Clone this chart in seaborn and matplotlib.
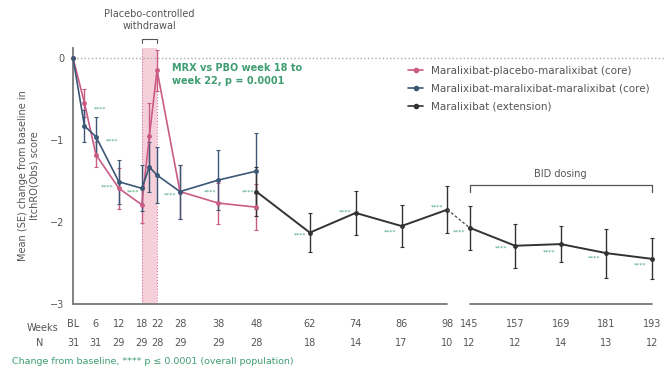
import numpy as np
import pandas as pd
import matplotlib
matplotlib.use("Agg")
import matplotlib.pyplot as plt
import matplotlib.transforms as mtransforms
from matplotlib.lines import Line2D
import seaborn as sns

# ---- data ----
core_weeks = [0, 3, 6, 12, 18, 20, 22, 28, 38, 48]
pbo_mean = [0, -0.55, -1.18, -1.59, -1.79, -0.95, -0.15, -1.63, -1.77, -1.82]
pbo_se = [0, 0.17, 0.15, 0.25, 0.22, 0.40, 0.25, 0.33, 0.25, 0.28]
mmm_mean = [0, -0.83, -0.96, -1.51, -1.59, -1.33, -1.43, -1.63, -1.49, -1.38]
mmm_se = [0, 0.20, 0.24, 0.27, 0.28, 0.30, 0.34, 0.33, 0.37, 0.46]

ext_weeks = [48, 62, 74, 86, 98, 145, 157, 169, 181, 193]
ext_mean = [-1.63, -2.13, -1.89, -2.05, -1.85, -2.07, -2.29, -2.27, -2.38, -2.45]
ext_se = [0.30, 0.24, 0.27, 0.26, 0.29, 0.27, 0.27, 0.22, 0.30, 0.25]

tick_weeks = [0, 6, 12, 18, 22, 28, 38, 48, 62, 74, 86, 98, 145, 157, 169, 181, 193]
tick_labels = ["BL", "6", "12", "18", "22", "28", "38", "48", "62", "74", "86", "98",
               "145", "157", "169", "181", "193"]
n_patients = [31, 31, 29, 29, 28, 29, 29, 28, 18, 14, 17, 10, 12, 12, 14, 13, 12]

star_weeks = [7.1, 10.2, 8.9, 15.7, 25.4, 35.9, 45.8, 59.4, 71.2, 83.0, 95.3,
              142.3, 153.2, 166.0, 177.8, 189.8]
star_vals = [-0.63, -1.01, -1.57, -1.63, -1.67, -1.63, -1.63, -2.16, -1.88, -2.12,
             -1.82, -2.12, -2.32, -2.37, -2.44, -2.52]

labels = ["Maralixibat-placebo-maralixibat (core)",
          "Maralixibat-maralixibat-maralixibat (core)",
          "Maralixibat (extension)"]
colors = ["#c95b84", "#3b5775", "#333333"]
GREEN = "#3f9d72"
GREY = "#555555"

# broken time axis: weeks 98 -> 145 squeezed into a small gap
GAP, SCALE2 = 5.8, 0.995


def xpos(w):
    w = np.asarray(w, dtype=float)
    return np.where(w <= 98, w, 98 + GAP + (w - 145) * SCALE2)


core = pd.concat([
    pd.DataFrame({"week": core_weeks, "mean": pbo_mean, "se": pbo_se, "arm": labels[0]}),
    pd.DataFrame({"week": core_weeks, "mean": mmm_mean, "se": mmm_se, "arm": labels[1]}),
])
core["pos"] = xpos(core["week"])
ext = pd.DataFrame({"week": ext_weeks, "mean": ext_mean, "se": ext_se})
ext["pos"] = xpos(ext["week"])

sns.set_theme(style="white")
plt.rcParams["font.family"] = ["DejaVu Sans"]

fig = plt.figure(figsize=(6.64, 3.76), dpi=100)
ax = fig.add_axes([73 / 664, 1 - 304 / 376, 591 / 664, 256 / 376])

# placebo-controlled withdrawal band
ax.axvspan(18, 22, color="#f2bccd", alpha=0.7, lw=0, zorder=0)
for w in (18, 22):
    ax.axvline(w, color="#d9738f", ls=":", lw=0.8, zorder=0.5)
ax.axhline(0, color="#aaaaaa", ls=":", lw=1.0, zorder=0.5)

# core arms
for arm, c in zip(labels[:2], colors[:2]):
    d = core[core["arm"] == arm]
    ax.errorbar(d["pos"], d["mean"], yerr=d["se"], fmt="none", ecolor=c,
                elinewidth=1.0, capsize=1.5, capthick=0.8, zorder=2, clip_on=False)
sns.lineplot(data=core, x="pos", y="mean", hue="arm", palette=colors[:2],
             marker="o", markersize=3.5, markeredgewidth=0, linewidth=1.2,
             errorbar=None, legend=False, sort=False, ax=ax, zorder=3)

# extension
ax.errorbar(ext["pos"], ext["mean"], yerr=ext["se"], fmt="none", ecolor=colors[2],
            elinewidth=1.0, capsize=1.5, capthick=0.8, zorder=2)
pre, post = ext[ext["week"] <= 98], ext[ext["week"] >= 145]
for seg in (pre, post):
    sns.lineplot(data=seg, x="pos", y="mean", color=colors[2], marker="o",
                 markersize=3.5, markeredgewidth=0, linewidth=1.4, errorbar=None,
                 ax=ax, zorder=4)
ax.plot(xpos([98, 145]), [ext_mean[4], ext_mean[5]], color="#555555", ls=(0, (2, 1.5)),
        lw=1.0, zorder=4)

for ln in ax.lines:
    ln.set_clip_on(False)

# significance stars
for w, v in zip(star_weeks, star_vals):
    ax.text(xpos(w), v, "****", color=GREEN, fontsize=4.5, ha="center", va="center")

# axes styling
ax.set_xlim(0, (664 - 73) / 3.82)
ax.set_ylim(-3, 0.12)
ax.set_xlabel("")
ax.set_ylabel("Mean (SE) change from baseline in\nItchRO(Obs) score", color=GREY,
              fontsize=7, labelpad=8)
ax.set_yticks([0, -1, -2, -3])
ax.set_yticklabels(["0", "\u22121", "\u22122", "\u22123"])
ax.set_xticks(xpos(tick_weeks))
ax.set_xticklabels(tick_labels)
ax.tick_params(axis="both", colors="#777777", labelcolor=GREY, labelsize=7,
               direction="inout", length=5, width=1.0)
ax.tick_params(axis="x", pad=8)
for s in ("top", "right", "bottom"):
    ax.spines[s].set_visible(False)
ax.spines["left"].set_color("#777777")
ax.spines["left"].set_linewidth(1.3)

# broken x axis line
for a, b in ((0, 98), (145, 193)):
    ax.plot(xpos([a, b]), [-3, -3], color="#777777", lw=1.3, clip_on=False, zorder=1)

trans = mtransforms.blended_transform_factory(ax.transData, ax.transAxes)
for w, n in zip(tick_weeks, n_patients):
    ax.text(xpos(w), -0.152, str(n), transform=trans, ha="center", va="center",
            fontsize=7, color=GREY)
ax.text(-0.025, -0.095, "Weeks", transform=ax.transAxes, ha="right", va="center",
        fontsize=7, color=GREY)
ax.text(-0.05, -0.152, "N", transform=ax.transAxes, ha="right", va="center",
        fontsize=7, color=GREY)

# withdrawal label and bracket
ax.plot([18, 18, 22, 22], [1.02, 1.035, 1.035, 1.02], transform=trans, color=GREY,
        lw=0.8, clip_on=False)
ax.text(20, 1.11, "Placebo-controlled\nwithdrawal", transform=trans, ha="center",
        va="center", fontsize=7, color=GREY, linespacing=1.3)

ax.text(25.9, -0.2, "MRX vs PBO week 18 to\nweek 22, p = 0.0001", color=GREEN,
        fontsize=7, fontweight="bold", ha="left", va="center", linespacing=1.4)

# BID dosing bracket
bx = xpos([145, 145, 193, 193])
ax.plot(bx, [-1.63, -1.55, -1.55, -1.63], color=GREY, lw=0.9, clip_on=False)
ax.text(xpos(169), -1.41, "BID dosing", ha="center", va="center", fontsize=7, color=GREY)

handles = [Line2D([0], [0], color=c, marker="o", ms=3, lw=1.2) for c in colors]
ax.legend(handles, labels, loc="upper left", bbox_to_anchor=(0.555, 0.96), frameon=False,
          fontsize=7.5, handlelength=1.4, labelspacing=0.75, labelcolor=GREY,
          borderpad=0.2)

fig.text(12 / 664, 1 - 362 / 376,
         "Change from baseline, **** p \u2264 0.0001 (overall population)",
         color=GREEN, fontsize=6.8, ha="left", va="center")

fig.savefig("out.png", dpi=100)
